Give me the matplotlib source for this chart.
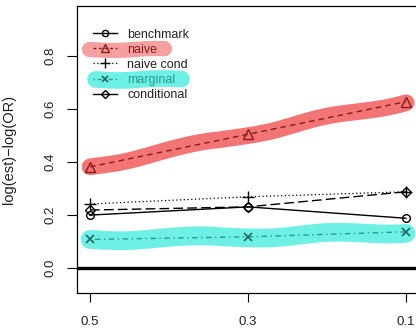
import matplotlib
matplotlib.use("Agg")
import matplotlib.pyplot as plt
from matplotlib.lines import Line2D

plt.rcParams['font.family'] = ['Liberation Sans', 'DejaVu Sans']

# ---- data ----
x_vals = [0.5, 0.3, 0.1]
x_labels = ["0.5", "0.3", "0.1"]
benchmark = [0.20, 0.231, 0.188]
naive = [0.382, 0.505, 0.628]
naive_cond = [0.242, 0.269, 0.288]
marginal = [0.108, 0.118, 0.137]
conditional = [0.219, 0.231, 0.288]
y_ticks = [0.0, 0.2, 0.4, 0.6, 0.8]
y_tick_labels = ["0.0", "0.2", "0.4", "0.6", "0.8"]
series_names = ["benchmark", "naive", "naive cond", "marginal", "conditional"]

W, H = 416, 328
fig = plt.figure(figsize=(W / 100, H / 100), dpi=100)
left_px, right_px, top_px, bot_px = 77, 419, 6, 293
ax = fig.add_axes([left_px / W, 1 - bot_px / H, (right_px - left_px) / W, (bot_px - top_px) / H])

red_band = "#F27474"
red_blob = "#F4A0A0"
teal_band = "#6EF0E4"
dark_red = "#8B1A1A"
dark_teal = "#1F6A66"
mid_teal = "#2A9A92"

# highlight bands
bn, = ax.plot(x_vals, naive, color=red_band, lw=12, solid_capstyle='round', zorder=1)
bn.set_sketch_params(scale=1.8, length=150, randomness=2)
bm, = ax.plot(x_vals, marginal, color=teal_band, lw=13.5, solid_capstyle='round', zorder=1)
bm.set_sketch_params(scale=1.8, length=150, randomness=2)

ms = 5.5
ax.axhline(0, color='black', lw=2.4, zorder=2)
ax.plot(x_vals, benchmark, color='black', lw=1, ls='-', marker='o', mfc='none', mec='black', ms=ms, zorder=3)
ax.plot(x_vals, naive, color=dark_red, lw=1, ls=(0, (4, 3)), marker='^', mfc='none', mec=dark_red, ms=ms + 1, zorder=3)
ax.plot(x_vals, naive_cond, color='black', lw=0.9, ls=(0, (1, 2)), marker='+', mec='black', ms=ms + 3, mew=1, zorder=3)
ax.plot(x_vals, marginal, color=mid_teal, lw=1, ls=(0, (1, 2.5, 4, 2.5)), marker='x', mec=dark_teal, ms=ms + 0.5, mew=1.2, zorder=3)
ax.plot(x_vals, conditional, color='black', lw=1, ls=(0, (7, 3)), marker='D', mfc='none', mec='black', ms=ms - 0.5, zorder=3)

ax.set_xlim(0.5165, 0.0835)
ax.set_ylim(-0.094, 0.989)
ax.set_xticks(x_vals)
ax.set_xticklabels(x_labels)
ax.set_yticks(y_ticks)
ax.set_yticklabels(y_tick_labels, rotation=90, va='center')
ax.tick_params(axis='x', length=6.5, width=0.8, pad=10, labelsize=9.5, labelcolor='#222222')
ax.tick_params(axis='y', length=7.2, width=0.8, pad=7.5, labelsize=9.5, labelcolor='#222222')
for s in ax.spines.values():
    s.set_linewidth(0.9)
ax.set_ylabel("log(est)\u2212log(OR)", fontsize=10.5, color='#222222')
ax.yaxis.set_label_coords(-(left_px - 16) / (right_px - left_px), 0.5)

# legend highlight blobs (figure coords)
def blob(x0, x1, yc, color, lw):
    l, = ax.plot([x0 / W, x1 / W], [1 - yc / H, 1 - yc / H], transform=fig.transFigure,
                 color=color, lw=lw, solid_capstyle='round', clip_on=False, zorder=4)
    l.set_sketch_params(scale=1.0, length=100, randomness=2)

blob(89, 164, 48.5, red_blob, 11)
blob(95, 181, 79, teal_band, 12)

handles = [
    Line2D([], [], color='black', lw=1, ls='-', marker='o', mfc='none', mec='black', ms=ms - 1),
    Line2D([], [], color=dark_red, lw=1, ls=(0, (2, 2)), marker='^', mfc='none', mec=dark_red, ms=ms),
    Line2D([], [], color='black', lw=0.9, ls=(0, (1, 2)), marker='+', mec='black', ms=ms + 2),
    Line2D([], [], color=mid_teal, lw=1, ls=(0, (1, 2, 3, 2)), marker='x', mec=dark_teal, ms=ms - 0.5, mew=1.2),
    Line2D([], [], color='black', lw=1, ls='-', marker='D', mfc='none', mec='black', ms=ms - 1.5),
]
leg = ax.legend(handles, series_names, loc='upper left', bbox_to_anchor=(93 / W, 1 - 28.5 / H),
                bbox_transform=fig.transFigure, frameon=False, fontsize=9,
                handlelength=1.9, handletextpad=0.85, labelspacing=0.25, borderpad=0, borderaxespad=0)
leg.set_zorder(5)
txt = leg.get_texts()
for t in txt:
    t.set_color('#222222')
txt[1].set_color(dark_red)
txt[3].set_color(mid_teal)

fig.savefig("out.png", dpi=100)
